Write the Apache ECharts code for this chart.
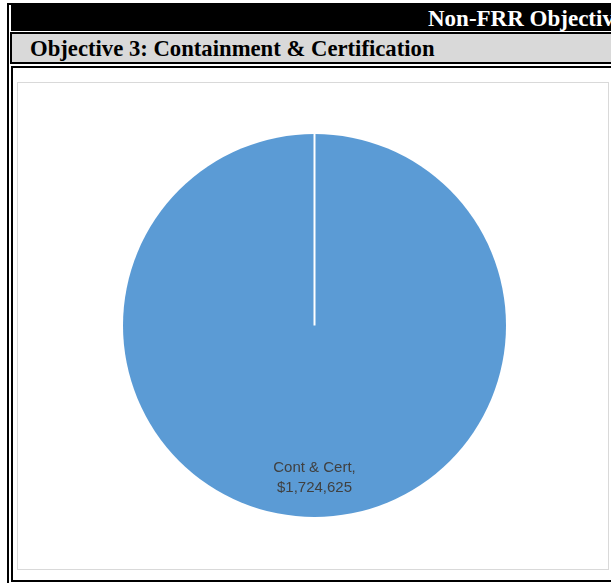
<!DOCTYPE html>
<html>
<head>
<meta charset="utf-8">
<script src="https://cdn.jsdelivr.net/npm/echarts@6/dist/echarts.min.js"></script>
<style>
  html, body { margin: 0; padding: 0; background: #fff; }
  body { width: 611px; height: 583px; position: relative; overflow: hidden; }
  .abs { position: absolute; box-sizing: border-box; }
  #topline { left: 7px; top: 3px; right: 0; height: 2px; background: #000; }
  #leftline { left: 7px; top: 3px; width: 2px; bottom: 0; background: #000; }
  #blackbar { left: 11px; top: 5px; right: 0; height: 26px; background: #000; overflow: hidden; }
  #blackbar span { position: absolute; left: 417px; top: 1px; white-space: nowrap; color: #fff;
    font-family: "Liberation Serif", serif; font-weight: bold; font-size: 23px; line-height: 26px; }
  #graybar { left: 10px; top: 32px; right: -4px; height: 32px; background: #d9d9d9; border: 2px solid #000; }
  #graybar span { position: absolute; left: 18px; top: 1px; white-space: nowrap; color: #000;
    font-family: "Liberation Serif", serif; font-weight: bold; font-size: 22.7px; line-height: 28px; }
  #frame { left: 11px; top: 66px; right: -4px; height: 516px; border: 2px solid #000; }
  #chartbox { left: 17px; top: 82px; width: 592px; height: 488px; border: 1px solid #d9d9d9; }
  #chart { position: absolute; left: 18px; top: 83px; width: 590px; height: 486px; }
</style>
</head>
<body>
<div class="abs" id="topline"></div>
<div class="abs" id="leftline"></div>
<div class="abs" id="blackbar"><span>Non-FRR Objectives</span></div>
<div class="abs" id="graybar"><span>Objective 3: Containment &amp; Certification</span></div>
<div class="abs" id="frame"></div>
<div class="abs" id="chartbox"></div>
<div id="chart"></div>
<script>
const categories = ["Cont & Cert"];
const values = [1724625];

function fmtMoney(v) {
  return "$" + v.toString().replace(/\B(?=(\d{3})+(?!\d))/g, ",");
}

const chart = echarts.init(document.getElementById('chart'), null, { renderer: 'canvas' });
const option = {
  animation: false,
  series: [{
    type: 'pie',
    center: [296.5, 242.5],
    radius: [0, 191.5],
    startAngle: 90,
    clockwise: true,
    silent: true,
    data: categories.map((c, i) => ({ name: c, value: values[i] })),
    itemStyle: { color: '#5B9BD5', borderColor: '#fff', borderWidth: 0 },
    label: {
      show: true,
      position: 'inside',
      formatter: p => p.name + ",\n" + fmtMoney(p.value),
      color: '#404040',
      fontFamily: 'Liberation Sans, Arial, sans-serif',
      fontSize: 15,
      lineHeight: 20,
      align: 'center'
    },
    labelLayout: { dy: 27 },
    labelLine: { show: false }
  }]
};
chart.setOption(option);

// white slice edge from centre to 12 o'clock, taken from the pie's own layout
const layout = chart.getModel().getSeriesByIndex(0).getData().getItemLayout(0);
chart.setOption({
  graphic: [{
    type: 'line',
    silent: true,
    z: 100,
    shape: { x1: layout.cx, y1: layout.cy, x2: layout.cx, y2: layout.cy - layout.r },
    style: { stroke: '#fff', lineWidth: 2 }
  }]
});
</script>
</body>
</html>
